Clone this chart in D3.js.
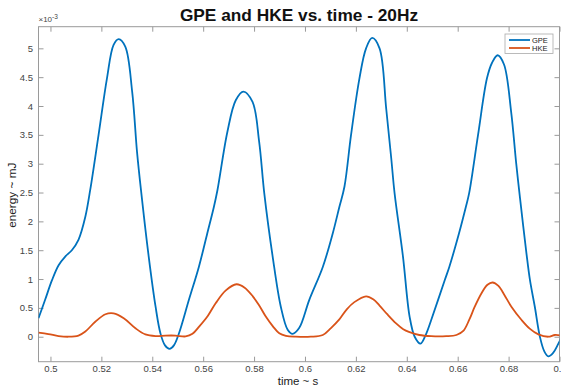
<!DOCTYPE html>
<html><head><meta charset="utf-8">
<script src="https://cdn.jsdelivr.net/npm/d3@7"></script>
<style>body{margin:0;background:#fff}svg{display:block;font-family:"Liberation Sans",Arial,sans-serif}</style>
</head><body><svg id="c" width="561" height="387"></svg>
<script>
const title = "GPE and HKE vs. time - 20Hz";
const xLabel = "time ~ s";
const yLabel = "energy ~ mJ";
const seriesNames = ["GPE", "HKE"];
const xTicks = [0.5, 0.52, 0.54, 0.56, 0.58, 0.6, 0.62, 0.64, 0.66, 0.68, 0.7];
const yTicks = [0, 0.5, 1, 1.5, 2, 2.5, 3, 3.5, 4, 4.5, 5];
const gpeTime = [0.4953,0.4979,0.5006,0.5032,0.5058,0.5084,0.5110,0.5137,0.5156,0.5189,0.5222,0.5248,0.5268,0.5294,0.5321,0.5340,0.5357,0.5386,0.5413,0.5432,0.5450,0.5468,0.5485,0.5505,0.5544,0.5583,0.5616,0.5642,0.5656,0.5695,0.5728,0.5758,0.5794,0.5820,0.5840,0.5873,0.5905,0.5932,0.5951,0.5977,0.6017,0.6070,0.6109,0.6135,0.6155,0.6181,0.6214,0.6240,0.6264,0.6293,0.6319,0.6339,0.6352,0.6385,0.6411,0.6431,0.6454,0.6477,0.6496,0.6549,0.6567,0.6605,0.6632,0.6645,0.6680,0.6715,0.6735,0.6757,0.6782,0.6810,0.6830,0.6845,0.6870,0.6884,0.6903,0.6923,0.6940,0.6956,0.6975,0.6992,0.7006];
const gpeValue = [0.32,0.64,0.98,1.24,1.39,1.50,1.68,2.08,2.54,3.50,4.48,5.06,5.16,5.03,4.25,3.21,2.49,1.39,0.52,0.06,-0.15,-0.21,-0.15,0.06,0.64,1.21,1.79,2.25,2.54,3.55,4.10,4.25,4.07,3.38,2.49,1.39,0.52,0.12,0.05,0.15,0.64,1.21,1.79,2.25,2.60,3.50,4.48,5.00,5.18,5.00,3.96,3.09,2.49,1.39,0.35,0.0,-0.12,0.06,0.29,0.98,1.21,1.79,2.25,2.49,3.50,4.48,4.75,4.88,4.72,3.90,3.00,2.40,1.45,0.98,0.52,0.0,-0.25,-0.34,-0.28,-0.15,-0.03];
const hkeTime = [0.4953,0.4992,0.5032,0.5071,0.5110,0.5137,0.5176,0.5216,0.5248,0.5288,0.5334,0.5373,0.5413,0.5452,0.5491,0.5531,0.5558,0.5583,0.5618,0.5649,0.5688,0.5731,0.5763,0.5795,0.5819,0.5846,0.5874,0.5899,0.5925,0.5964,0.6023,0.6070,0.6102,0.6135,0.6165,0.6194,0.6240,0.6268,0.6293,0.6323,0.6358,0.6386,0.6411,0.6449,0.6496,0.6555,0.6595,0.6622,0.6646,0.6667,0.6693,0.6717,0.6737,0.6760,0.6784,0.6811,0.6851,0.6883,0.6917,0.6956,0.6982,0.7006];
const hkeValue = [0.07,0.047,0.012,0.0,0.02,0.09,0.26,0.39,0.405,0.32,0.146,0.04,0.012,0.02,0.02,0.005,0.05,0.17,0.36,0.58,0.80,0.91,0.85,0.70,0.55,0.35,0.18,0.06,0.015,0.0,0.0,0.03,0.15,0.30,0.48,0.60,0.70,0.65,0.54,0.39,0.23,0.13,0.08,0.03,0.01,0.01,0.03,0.10,0.30,0.52,0.75,0.90,0.94,0.88,0.72,0.52,0.29,0.14,0.04,0.0,0.03,0.02];
const colors = ["#0072BD", "#D95319"];

const svg = d3.select("#c");
const L = 38.5, R = 559.5, T = 26.7, B = 361.7;
const x = d3.scaleLinear().domain([0.4953, 0.7]).range([L, R]);
const y = d3.scaleLinear().domain([-0.433, 5.375]).range([B, T]);
const axisCol = "#9a9a9a", txtCol = "#444";

svg.append("defs").append("clipPath").attr("id","clip").append("rect")
  .attr("x", L).attr("y", T).attr("width", R - L).attr("height", B - T);

const tl = 5;
function styleAxis(g){ g.select(".domain").remove(); g.selectAll("line").attr("stroke", axisCol); g.selectAll("text").attr("fill", txtCol).attr("font-size", 9.5); }
svg.append("g").attr("transform", `translate(0,${B})`)
  .call(d3.axisBottom(x).tickValues(xTicks).tickSize(-tl).tickPadding(4).tickFormat(d3.format("~g"))).call(styleAxis);
svg.append("g").attr("transform", `translate(0,${T})`)
  .call(d3.axisTop(x).tickValues(xTicks).tickSize(-tl).tickFormat("")).call(styleAxis);
svg.append("g").attr("transform", `translate(${L},0)`)
  .call(d3.axisLeft(y).tickValues(yTicks).tickSize(-tl).tickPadding(5.5).tickFormat(d3.format("~g"))).call(styleAxis);
svg.append("g").attr("transform", `translate(${R},0)`)
  .call(d3.axisRight(y).tickValues(yTicks).tickSize(-tl).tickFormat("")).call(styleAxis);
svg.append("rect").attr("x", L).attr("y", T).attr("width", R - L).attr("height", B - T)
  .attr("fill", "none").attr("stroke", axisCol).attr("stroke-width", 1);

const line = d3.line().x(d => x(d[0])).y(d => y(d[1])).curve(d3.curveCatmullRom.alpha(0.5));
const data = [d3.zip(gpeTime, gpeValue), d3.zip(hkeTime, hkeValue)];
data.forEach((d, i) => {
  svg.append("path").datum(d).attr("d", line).attr("fill", "none")
    .attr("stroke", colors[i]).attr("stroke-width", 1.8).attr("clip-path", "url(#clip)");
});

const ex = svg.append("text").attr("x", L).attr("y", 22).attr("fill", txtCol).attr("font-size", 8);
ex.append("tspan").text("×10");
ex.append("tspan").attr("dy", -3).attr("font-size", 6.5).text("-3");

svg.append("text").attr("x", (L + R) / 2).attr("y", 20.7).attr("text-anchor", "middle")
  .attr("font-weight", "bold").attr("font-size", 17.3).attr("fill", "#111").text(title);
svg.append("text").attr("x", 298).attr("y", 384.5).attr("text-anchor", "middle")
  .attr("font-size", 11.5).attr("fill", "#222").text(xLabel);
svg.append("text").attr("transform", `translate(16,${(T + B) / 2 + 1}) rotate(-90)`).attr("text-anchor", "middle")
  .attr("font-size", 11.8).attr("fill", "#222").text(yLabel);

const lg = svg.append("g");
lg.append("rect").attr("x", 505).attr("y", 34).attr("width", 48).attr("height", 19.5)
  .attr("fill", "#fff").attr("stroke", "#aaa").attr("stroke-width", 0.8);
seriesNames.forEach((n, i) => {
  const yy = 40 + i * 8;
  lg.append("line").attr("x1", 509).attr("x2", 530).attr("y1", yy).attr("y2", yy)
    .attr("stroke", colors[i]).attr("stroke-width", 1.8);
  lg.append("text").attr("x", 532).attr("y", yy + 2.6).attr("font-size", 7.5).attr("fill", "#222").text(n);
});
</script></body></html>
